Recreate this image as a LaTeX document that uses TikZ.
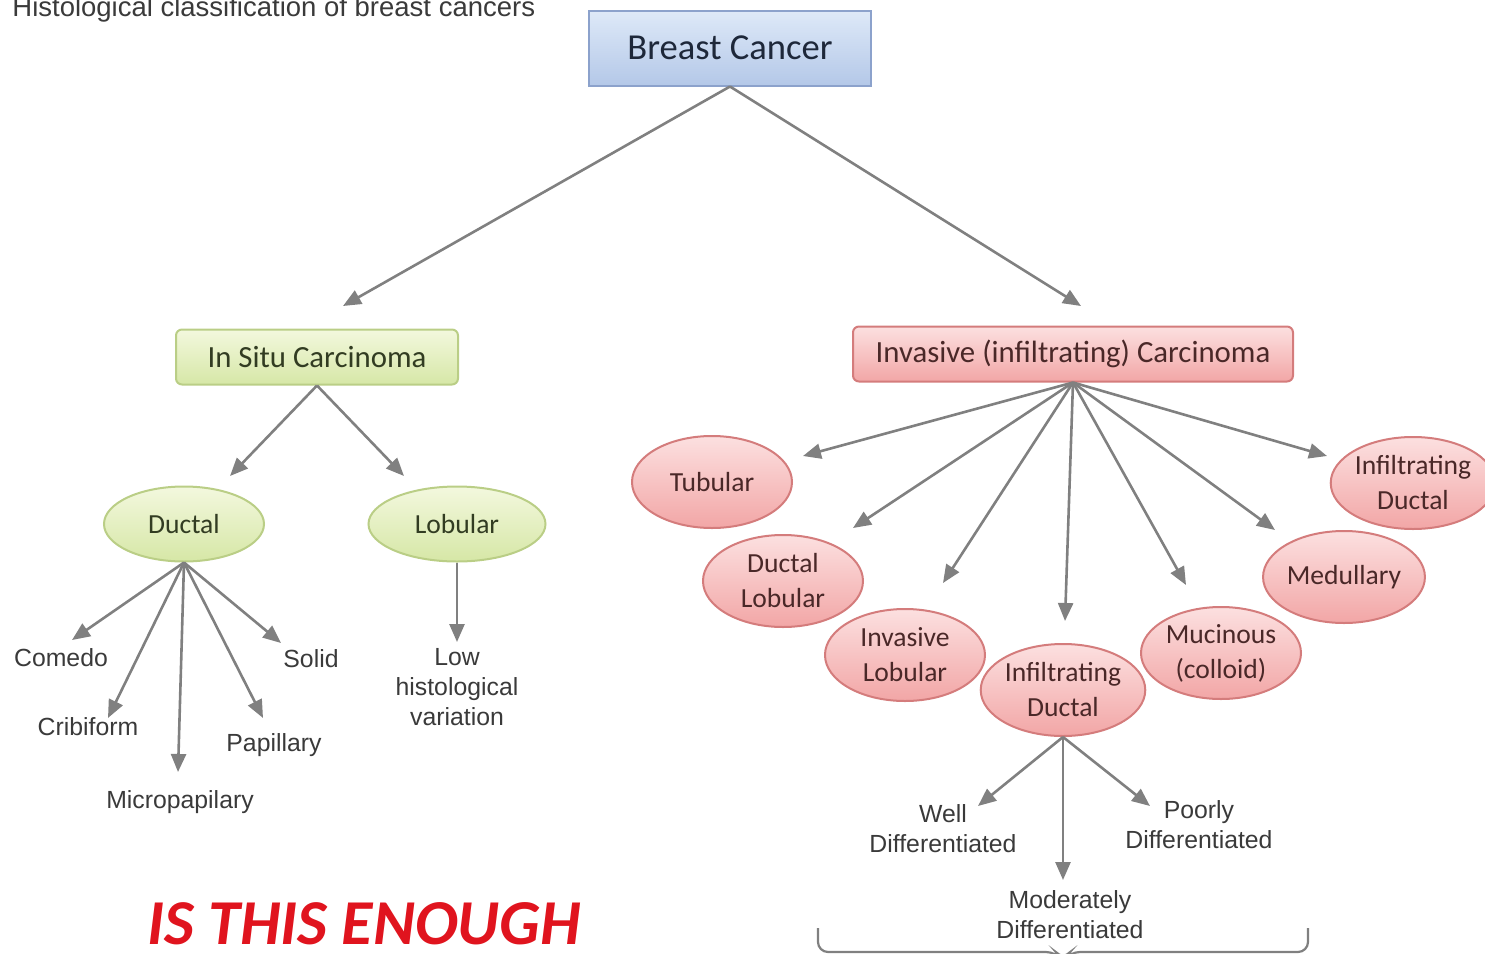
\documentclass[tikz,border=0pt]{standalone}
\usepackage{fontspec}
\setmainfont{Liberation Sans}
\newfontfamily\calfont{Carlito}
\usetikzlibrary{arrows.meta,shapes.geometric}

\definecolor{arrowgray}{RGB}{128,128,128}
\definecolor{labelgray}{RGB}{58,58,58}
\definecolor{bluetop}{RGB}{222,233,248}
\definecolor{bluebot}{RGB}{180,200,232}
\definecolor{blueline}{RGB}{140,162,204}
\definecolor{bluetext}{RGB}{30,40,58}
\definecolor{greentop}{RGB}{243,248,222}
\definecolor{greenbot}{RGB}{214,231,166}
\definecolor{greenline}{RGB}{186,206,134}
\definecolor{greentext}{RGB}{50,60,34}
\definecolor{redtop}{RGB}{252,224,224}
\definecolor{redbot}{RGB}{242,166,166}
\definecolor{redline}{RGB}{212,124,124}
\definecolor{redtext}{RGB}{74,40,40}
\definecolor{alertred}{RGB}{224,20,30}

\tikzset{
  rootbox/.style={draw=blueline, line width=1pt, top color=bluetop, bottom color=bluebot,
    minimum width=141pt, minimum height=37.5pt, inner sep=0pt,
    font=\calfont\fontsize{18.3}{22}\selectfont, text=bluetext},
  greenbox/.style={draw=greenline, line width=1pt, top color=greentop, bottom color=greenbot,
    rounded corners=3pt, minimum width=141pt, minimum height=27.5pt, inner sep=0pt,
    font=\calfont\fontsize{15.4}{18}\selectfont, text=greentext},
  redbox/.style={draw=redline, line width=1pt, top color=redtop, bottom color=redbot,
    rounded corners=3pt, minimum width=220pt, minimum height=27.5pt, inner sep=0pt,
    font=\calfont\fontsize{15.4}{18}\selectfont, text=redtext},
  greenoval/.style={ellipse, draw=greenline, line width=1pt, top color=greentop, bottom color=greenbot,
    minimum width=80pt, minimum height=37.5pt, inner sep=0pt,
    font=\calfont\fontsize{13.8}{17.5}\selectfont, text=greentext},
  redoval/.style={ellipse, draw=redline, line width=1pt, top color=redtop, bottom color=redbot,
    minimum width=80pt, minimum height=46pt, inner sep=0pt, align=center,
    font=\calfont\fontsize{13.8}{17.5}\selectfont, text=redtext},
  leaf/.style={font=\fontsize{12.4}{15}\selectfont, text=labelgray, align=center, inner sep=0pt},
  arr/.style={-{Triangle[length=9pt,width=7.5pt]}, line width=1.3pt, draw=arrowgray}
}

\begin{document}
\begin{tikzpicture}[x=0.5pt,y=-0.5pt]
  \useasboundingbox (0,0) rectangle (1485,954);

  % title and remark
  \node[anchor=base west, inner sep=0pt, text=labelgray, font=\fontsize{13.75}{16}\selectfont]
    (title) at (12,16) {Histological classification of breast cancers};
  \node[anchor=base, inner sep=0pt, text depth=0pt, text=alertred,
    font=\calfont\bfseries\itshape\fontsize{32}{38}\selectfont]
    (remark) at (364,944) {IS THIS ENOUGH};

  % main boxes
  \node[rootbox] (root) at (730,48) {Breast Cancer};
  \node[greenbox] (insitu) at (317,357) {In Situ Carcinoma};
  \node[redbox] (invasive) at (1073,354) {Invasive (infiltrating) Carcinoma};

  % in situ branch
  \node[greenoval] (ductal) at (184,524) {Ductal};
  \node[greenoval, minimum width=88.5pt] (lobular) at (457,524) {Lobular};
  \node[leaf] (comedo) at (61,658) {Comedo};
  \node[leaf] (cribiform) at (88,727) {Cribiform};
  \node[leaf] (micropap) at (180,802) {Micropapilary};
  \node[leaf] (papillary) at (274,745) {Papillary};
  \node[leaf] (solid) at (311,659) {Solid};
  \node[leaf] (lowvar) at (457,687) {Low\\histological\\variation};

  % invasive branch
  \node[redoval] (tubular) at (712,482) {Tubular};
  \node[redoval] (duclob) at (783,581) {Ductal\\Lobular};
  \node[redoval] (invlob) at (905,655) {Invasive\\Lobular};
  \node[redoval] (infduc) at (1063,690) {Infiltrating\\Ductal};
  \node[redoval] (mucin) at (1221,653) {Mucinous\\(colloid)};
  \node[redoval] (medul) at (1344,577) {Medullary};
  \node[redoval] (infducb) at (1413,483) {Infiltrating\\Ductal};

  % grades
  \node[leaf] (well) at (943,829) {Well\\Differentiated};
  \node[leaf] (poor) at (1199,825) {Poorly\\Differentiated};
  \node[leaf] (moder) at (1070,915) {Moderately\\Differentiated};

  % arrow tips
  \coordinate (t-insitu) at (343,306);
  \coordinate (t-invasive) at (1081,306);
  \coordinate (t-ductal) at (230,476);
  \coordinate (t-lobular) at (404,476);
  \coordinate (t-comedo) at (72,640);
  \coordinate (t-cribiform) at (108,718);
  \coordinate (t-micropap) at (178,772);
  \coordinate (t-papillary) at (263,718);
  \coordinate (t-solid) at (281,643);
  \coordinate (t-lowvar) at (457,642);
  \coordinate (t-tubular) at (803,456);
  \coordinate (t-duclob) at (853,528);
  \coordinate (t-invlob) at (943,583);
  \coordinate (t-infduc) at (1065,621);
  \coordinate (t-mucin) at (1186,585);
  \coordinate (t-medul) at (1275,530);
  \coordinate (t-infducb) at (1327,456);
  \coordinate (t-well) at (978,806);
  \coordinate (t-moder) at (1063,880);
  \coordinate (t-poor) at (1150,806);

  \begin{scope}[arr]
    \draw (root.south) -- (t-insitu);
    \draw (root.south) -- (t-invasive);
    \draw (insitu.south) -- (t-ductal);
    \draw (insitu.south) -- (t-lobular);
    \draw (ductal.south) -- (t-comedo);
    \draw (ductal.south) -- (t-cribiform);
    \draw (ductal.south) -- (t-micropap);
    \draw (ductal.south) -- (t-papillary);
    \draw (ductal.south) -- (t-solid);
    \draw (lobular.south) -- (t-lowvar);
    \draw (invasive.south) -- (t-tubular);
    \draw (invasive.south) -- (t-duclob);
    \draw (invasive.south) -- (t-invlob);
    \draw (invasive.south) -- (t-infduc);
    \draw (invasive.south) -- (t-mucin);
    \draw (invasive.south) -- (t-medul);
    \draw (invasive.south) -- (t-infducb);
    \draw (infduc.south) -- (t-well);
    \draw (infduc.south) -- (t-moder);
    \draw (infduc.south) -- (t-poor);
  \end{scope}

  % brace under the grades
  \draw[line width=1.1pt, draw=arrowgray, rounded corners=5pt]
    (818,928) -- (818,952) -- (1056,952) -- (1063,960) -- (1070,952) -- (1308,952) -- (1308,928);
\end{tikzpicture}
\end{document}
